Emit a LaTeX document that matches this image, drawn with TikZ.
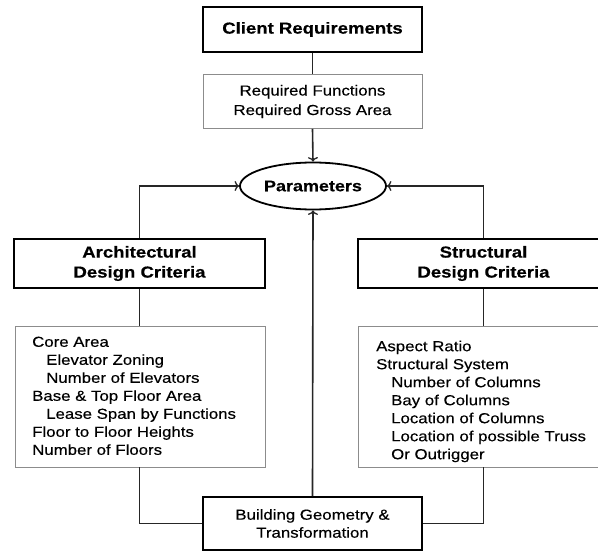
\documentclass[tikz,border=0pt]{standalone}
\usepackage{fontspec}
\setmainfont{Liberation Sans}[FakeStretch=1.16,FakeBold=0.35]
\usetikzlibrary{shapes.geometric,arrows.meta}
\begin{document}
\begin{tikzpicture}[x=1pt,y=-1pt,
  mainbox/.style={draw=black,line width=1.8pt,font=\fontsize{16}{20}\selectfont\bfseries,align=center,inner sep=0pt},
  listbox/.style={draw=black!45,line width=0.9pt,inner sep=0pt},
  conn/.style={line width=1.6pt,draw=black!85},
  arr/.style={conn,-{To[length=4.5pt,width=10pt,line width=1.3pt]}},
  txt/.style={font=\fontsize{14.5}{18}\selectfont,align=left,inner sep=0pt,anchor=north west}]
\useasboundingbox (0,0) rectangle (598,554);
% top
\node[mainbox,minimum width=219pt,minimum height=45pt] (client) at (312.5,29.5) {Client Requirements};
\node[listbox,minimum width=219pt,minimum height=54pt,align=center,font=\fontsize{14.5}{19.5}\selectfont] (req) at (312.5,101.5) {Required Functions\\Required Gross Area};
\node[draw=black,line width=1.8pt,ellipse,minimum width=146pt,minimum height=47pt,inner sep=0pt,font=\fontsize{15.5}{18}\selectfont\bfseries] (par) at (313,186) {Parameters};
% criteria boxes
\node[mainbox,minimum width=251pt,minimum height=49pt] (arch) at (139.5,263.5) {Architectural\\Design Criteria};
\node[mainbox,minimum width=251pt,minimum height=49pt] (struct) at (483.5,263.5) {Structural\\Design Criteria};
% list boxes
\node[listbox,minimum width=250pt,minimum height=141pt] (alist) at (140,396.5) {};
\node[listbox,minimum width=251pt,minimum height=141pt] (slist) at (483.5,396.5) {};
\node[txt] (atext) at (32,336.5) {Core Area\\
\hspace*{14pt}Elevator Zoning\\
\hspace*{14pt}Number of Elevators\\
Base \& Top Floor Area\\
\hspace*{14pt}Lease Span by Functions\\
Floor to Floor Heights\\
Number of Floors};
\node[txt] (stext) at (376,340.5) {Aspect Ratio\\
Structural System\\
\hspace*{15pt}Number of Columns\\
\hspace*{15pt}Bay of Columns\\
\hspace*{15pt}Location of Columns\\
\hspace*{15pt}Location of possible Truss\\
\hspace*{15pt}Or Outrigger};
% bottom
\node[draw=black,line width=1.8pt,minimum width=219pt,minimum height=53pt,inner sep=0pt,align=center,font=\fontsize{14.5}{18}\selectfont] (geo) at (312.5,523.5) {Building Geometry \&\\Transformation};
% connectors
\draw[conn] (client.south) -- (req.north);
\draw[arr] (req.south) -- (par.north);
\draw[arr] (arch.north) |- (par.west);
\draw[arr] (struct.north) |- (par.east);
\draw[conn] (arch.south) -- (alist.north -| arch.south);
\draw[conn] (struct.south) -- (slist.north -| struct.south);
\draw[conn] (alist.south -| arch.south) |- (geo.west);
\draw[conn] (slist.south -| struct.south) |- (geo.east);
\draw[arr] (geo.north) -- (par.south);
\end{tikzpicture}
\end{document}
